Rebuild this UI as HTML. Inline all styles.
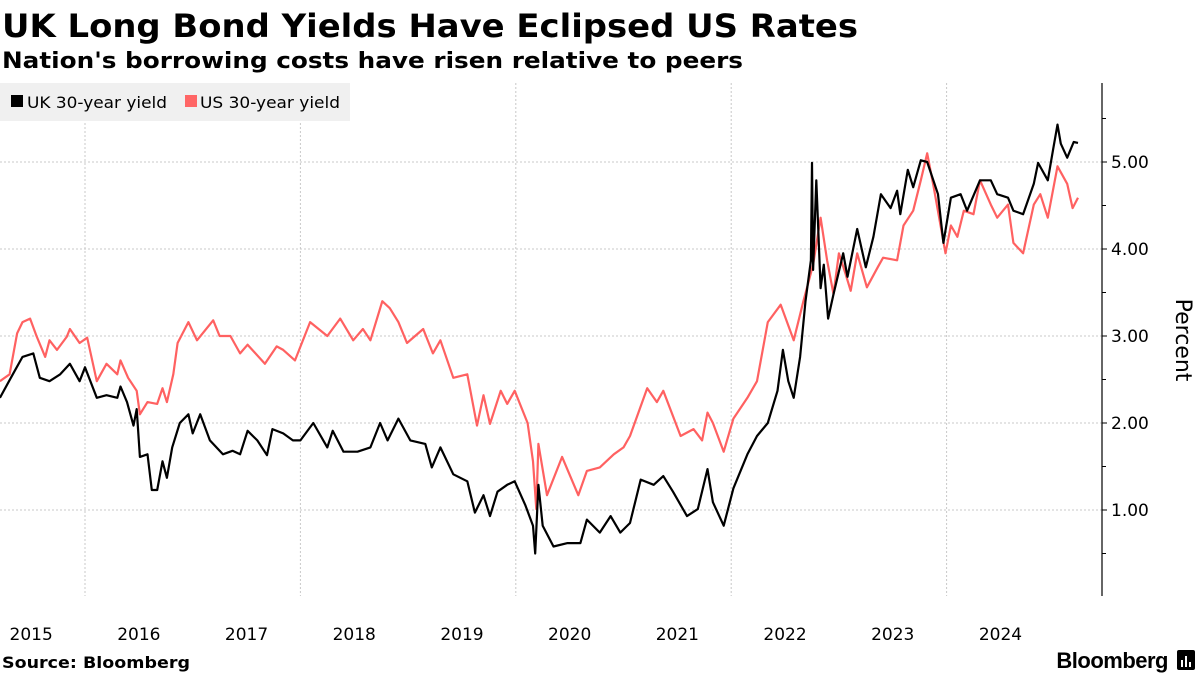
<!DOCTYPE html>
<html><head><meta charset="utf-8">
<style>
body{margin:0;background:#fff;width:1200px;height:675px;overflow:hidden;font-family:"DejaVu Sans","Liberation Sans",sans-serif;}
</style></head>
<body>
<svg width="1200" height="675" xmlns="http://www.w3.org/2000/svg" style="font-family:'DejaVu Sans','Liberation Sans',sans-serif">
<text x="2" y="37" font-size="32" font-weight="bold" fill="#000" textLength="856" lengthAdjust="spacingAndGlyphs">UK Long Bond Yields Have Eclipsed US Rates</text>
<text x="2" y="68" font-size="22" font-weight="bold" fill="#000" textLength="741" lengthAdjust="spacingAndGlyphs">Nation's borrowing costs have risen relative to peers</text>
<g id="grid"></g>
<g id="series"></g>
<g>
<rect x="0" y="83" width="350" height="38" fill="#f0f0f0"/>
<g><rect x="11" y="95" width="12" height="12" fill="#000"/><text x="27" y="108" font-size="16" fill="#000" textLength="140" lengthAdjust="spacingAndGlyphs">UK 30-year yield</text></g>
<g><rect x="185" y="95" width="12" height="12" fill="#f66"/><text x="200" y="108" font-size="16" fill="#000" textLength="140" lengthAdjust="spacingAndGlyphs">US 30-year yield</text></g>
</g>
<g id="axes"></g>
<text transform="translate(1176,340) rotate(90)" text-anchor="middle" font-size="22" fill="#000">Percent</text>
<text x="2" y="668" font-size="16" font-weight="bold" fill="#000" textLength="188" lengthAdjust="spacingAndGlyphs">Source: Bloomberg</text>
<text x="1168" y="668" text-anchor="end" font-size="22" font-weight="bold" fill="#000" style="font-family:'Liberation Sans',sans-serif;letter-spacing:-0.5px">Bloomberg</text>
<g><rect x="1177" y="650" width="18" height="20" rx="2" fill="#000"/><rect x="1181" y="660" width="2" height="7" fill="#fff"/><rect x="1185" y="656" width="2" height="11" fill="#fff"/><rect x="1189" y="662" width="2" height="5" fill="#fff"/></g>
</svg>
<script>
const ukDates=[2015.21,2015.33,2015.42,2015.52,2015.58,2015.67,2015.77,2015.86,2015.95,2016.00,2016.11,2016.20,2016.30,2016.33,2016.39,2016.45,2016.48,2016.51,2016.58,2016.62,2016.67,2016.72,2016.76,2016.81,2016.88,2016.96,2017.00,2017.07,2017.16,2017.28,2017.37,2017.44,2017.51,2017.60,2017.69,2017.74,2017.84,2017.93,2018.00,2018.12,2018.25,2018.30,2018.40,2018.53,2018.65,2018.74,2018.81,2018.91,2019.02,2019.16,2019.22,2019.30,2019.42,2019.55,2019.62,2019.70,2019.76,2019.83,2019.92,2019.99,2020.09,2020.16,2020.18,2020.21,2020.25,2020.35,2020.48,2020.60,2020.66,2020.78,2020.88,2020.97,2021.06,2021.16,2021.28,2021.37,2021.46,2021.59,2021.69,2021.78,2021.83,2021.93,2022.02,2022.15,2022.24,2022.34,2022.43,2022.48,2022.53,2022.58,2022.64,2022.69,2022.74,2022.75,2022.76,2022.79,2022.83,2022.86,2022.90,2022.95,2023.04,2023.08,2023.17,2023.25,2023.32,2023.39,2023.48,2023.54,2023.57,2023.64,2023.69,2023.76,2023.82,2023.92,2023.97,2024.04,2024.13,2024.19,2024.31,2024.41,2024.47,2024.57,2024.62,2024.71,2024.81,2024.85,2024.94,2024.99,2025.03,2025.06,2025.12,2025.18,2025.22];
const ukYield=[2.29,2.56,2.76,2.80,2.52,2.48,2.56,2.68,2.48,2.64,2.29,2.32,2.29,2.42,2.24,1.97,2.16,1.61,1.64,1.23,1.23,1.56,1.37,1.72,2.00,2.10,1.88,2.10,1.80,1.64,1.68,1.64,1.91,1.80,1.63,1.93,1.88,1.80,1.80,2.00,1.72,1.91,1.67,1.67,1.72,2.00,1.80,2.05,1.80,1.76,1.49,1.72,1.41,1.33,0.97,1.17,0.93,1.21,1.29,1.33,1.05,0.82,0.50,1.29,0.82,0.58,0.62,0.62,0.89,0.74,0.93,0.74,0.85,1.35,1.29,1.39,1.21,0.93,1.01,1.47,1.09,0.82,1.25,1.64,1.85,2.00,2.37,2.84,2.48,2.29,2.76,3.40,3.87,4.99,3.76,4.79,3.55,3.82,3.20,3.48,3.95,3.68,4.23,3.79,4.14,4.63,4.47,4.67,4.40,4.91,4.71,5.02,5.00,4.63,4.07,4.59,4.63,4.44,4.79,4.79,4.63,4.59,4.44,4.40,4.75,4.99,4.79,5.15,5.43,5.21,5.05,5.23,5.22];
const usDates=[2015.21,2015.30,2015.37,2015.42,2015.49,2015.55,2015.63,2015.67,2015.74,2015.83,2015.86,2015.95,2016.02,2016.11,2016.20,2016.30,2016.33,2016.40,2016.48,2016.51,2016.58,2016.67,2016.72,2016.76,2016.82,2016.86,2016.96,2017.04,2017.19,2017.25,2017.35,2017.44,2017.51,2017.67,2017.78,2017.84,2017.95,2018.09,2018.25,2018.37,2018.49,2018.58,2018.65,2018.76,2018.83,2018.91,2018.99,2019.14,2019.23,2019.30,2019.42,2019.55,2019.64,2019.70,2019.76,2019.86,2019.92,2019.99,2020.11,2020.16,2020.19,2020.21,2020.29,2020.43,2020.58,2020.66,2020.78,2020.91,2021.00,2021.06,2021.22,2021.31,2021.37,2021.53,2021.65,2021.73,2021.78,2021.83,2021.93,2022.02,2022.15,2022.24,2022.34,2022.46,2022.58,2022.67,2022.76,2022.83,2022.89,2022.95,2023.00,2023.06,2023.11,2023.17,2023.26,2023.36,2023.41,2023.54,2023.60,2023.69,2023.76,2023.82,2023.88,2023.99,2024.04,2024.10,2024.16,2024.25,2024.31,2024.41,2024.47,2024.57,2024.62,2024.71,2024.81,2024.87,2024.94,2025.03,2025.12,2025.17,2025.22];
const usYield=[2.48,2.56,3.03,3.16,3.20,3.00,2.76,2.95,2.84,2.99,3.08,2.92,2.98,2.48,2.68,2.56,2.72,2.52,2.37,2.10,2.24,2.22,2.40,2.24,2.56,2.92,3.16,2.95,3.18,3.00,3.00,2.80,2.90,2.68,2.88,2.84,2.72,3.16,3.00,3.20,2.95,3.08,2.95,3.40,3.32,3.16,2.92,3.08,2.80,2.95,2.52,2.56,1.97,2.32,1.99,2.37,2.22,2.37,2.00,1.56,1.01,1.76,1.17,1.61,1.17,1.45,1.49,1.64,1.72,1.85,2.40,2.24,2.37,1.85,1.93,1.80,2.12,2.00,1.67,2.05,2.29,2.48,3.16,3.36,2.95,3.40,3.82,4.36,3.87,3.48,3.95,3.72,3.52,3.95,3.56,3.79,3.90,3.87,4.27,4.44,4.79,5.10,4.71,3.95,4.27,4.14,4.44,4.40,4.79,4.51,4.36,4.51,4.07,3.95,4.51,4.63,4.36,4.95,4.75,4.47,4.59];
const yTicks=[1,2,3,4,5];
const yTickLabels=["1.00","2.00","3.00","4.00","5.00"];
const xLabelYears=[2015,2016,2017,2018,2019,2020,2021,2022,2023,2024];
const xGridYears=[2016,2018,2020,2022,2024];

const NS="http://www.w3.org/2000/svg";
const X0=85, PXY=107.7, Y0=597, PXV=87, AXX=1102;
function xs(t){return X0+(t-2016)*PXY;}
function ys(v){return Y0-v*PXV;}
function mk(tag,attrs,parent){const e=document.createElementNS(NS,tag);for(const k in attrs)e.setAttribute(k,attrs[k]);parent.appendChild(e);return e;}
const grid=document.getElementById('grid'),axes=document.getElementById('axes'),ser=document.getElementById('series');
yTicks.forEach((v,i)=>{
  const l=mk('line',{x1:0,x2:AXX,y1:ys(v),y2:ys(v),stroke:'#c8c8c8','stroke-dasharray':'2,2','stroke-width':1},grid);
  
  
  const tk=mk('line',{x1:AXX,x2:AXX+5,y1:ys(v),y2:ys(v),stroke:'#000','stroke-width':1},axes);
  
  
  const t=mk('text',{x:AXX+9,y:ys(v)+6,'font-size':17,fill:'#000'},axes);
  t.textContent=yTickLabels[i];
  
  
});
[0.5,1.5,2.5,3.5,4.5,5.5].forEach(v=>{
  const tk=mk('line',{x1:AXX,x2:AXX+4,y1:ys(v),y2:ys(v),stroke:'#000','stroke-width':1},axes);
  
  
});
const ax=mk('line',{x1:AXX,x2:AXX,y1:83,y2:596,stroke:'#000','stroke-width':1.2},axes);


xGridYears.forEach(y=>{
  const l=mk('line',{x1:xs(y),x2:xs(y),y1:83,y2:596,stroke:'#c8c8c8','stroke-dasharray':'2,2','stroke-width':1},grid);
  
  
});
xLabelYears.forEach(y=>{
  const t=mk('text',{x:xs(y+0.5),y:640,'font-size':17,fill:'#000','text-anchor':'middle'},axes);
  t.textContent=String(y);
  
  
});
function line(d,v,color,name){
  const p=d.map((t,i)=>(i?'L':'M')+xs(t).toFixed(1)+','+ys(v[i]).toFixed(1)).join('');
  const e=mk('path',{d:p,fill:'none',stroke:color,'stroke-width':2.2,'stroke-linejoin':'round'},ser);
  
  
}
line(usDates,usYield,'#ff6161','us-30-year-yield-line');
line(ukDates,ukYield,'#000','uk-30-year-yield-line');
</script>
</body></html>
